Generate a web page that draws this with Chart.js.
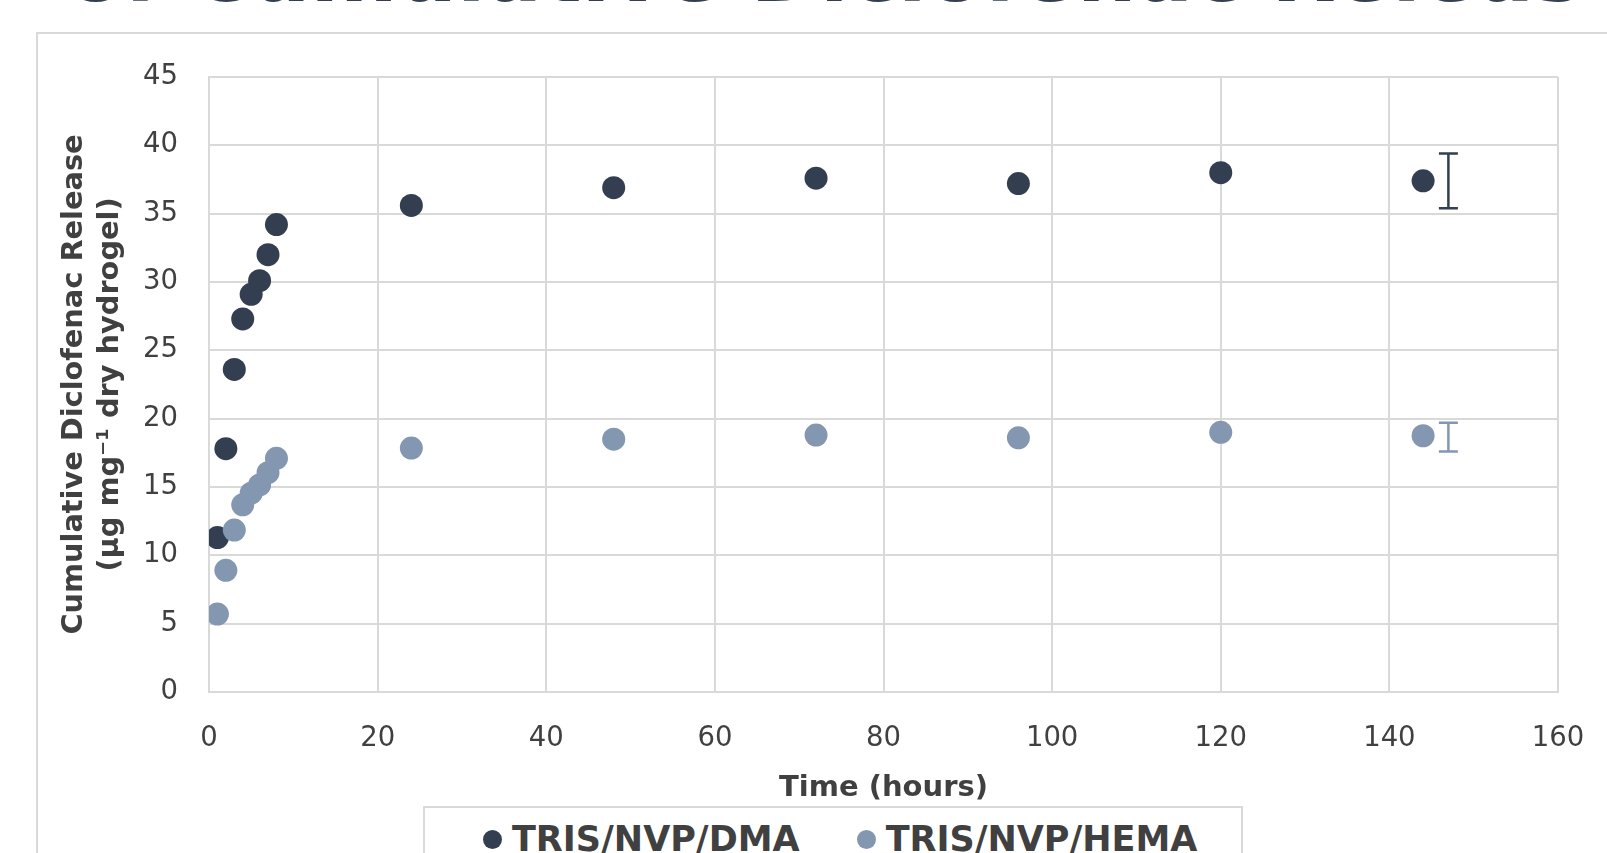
<!DOCTYPE html>
<html>
<head>
<meta charset="utf-8">
<script src="https://cdn.jsdelivr.net/npm/chart.js@4/dist/chart.umd.min.js"></script>
<style>
  html, body { margin: 0; padding: 0; background: #fff; overflow: hidden; }
  body { width: 1607px; height: 853px; position: relative; font-family: "DejaVu Sans", sans-serif; }
  #heading {
    position: absolute; left: 67px; top: -69.5px; white-space: nowrap;
    font: bold 83.5px/1 "DejaVu Sans", sans-serif; color: #333F50;
  }
  #frame {
    position: absolute; left: 36px; top: 32px; width: 1700px; height: 1000px;
    border: 2px solid #d9d9d9;
  }
  #wrap { position: absolute; left: 0; top: 0; width: 1607px; height: 853px; }
  #legend {
    position: absolute; left: 423px; top: 806px; width: 816px; height: 100px;
    border: 2px solid #d9d9d9; background: #fff;
    display: flex; justify-content: flex-start; align-items: flex-start; gap: 57px;
    padding-top: 10px; padding-left: 0; box-sizing: content-box;
  }
  .item { display: flex; align-items: center; gap: 10px;
    font: bold 35px/1.2 "DejaVu Sans", sans-serif; color: #404040; }
  .item:first-child { margin-left: 58px; }
  .dot { width: 19px; height: 19px; border-radius: 50%; }
</style>
</head>
<body>
<div id="heading">of Cumulative Diclofenac Releas</div>
<div id="frame"></div>
<div id="wrap"><canvas id="chart"></canvas></div>
<div id="legend"></div>
<script>
// time points (hours)
const hours = [1, 2, 3, 4, 5, 6, 7, 8, 24, 48, 72, 96, 120, 144];
// cumulative release, µg per mg dry hydrogel
const dmaRelease  = [11.3, 17.8, 23.6, 27.3, 29.1, 30.1, 32.0, 34.2, 35.6, 36.9, 37.6, 37.2, 38.0, 37.4];
const hemaRelease = [5.7, 8.9, 11.85, 13.7, 14.55, 15.15, 16.05, 17.1, 17.85, 18.5, 18.8, 18.6, 19.0, 18.75];

const seriesNames  = ['TRIS/NVP/DMA', 'TRIS/NVP/HEMA'];
const seriesColors = ['#333F50', '#8497B0'];

// error bars (drawn beside the last point, as in the original)
const errorTime = [147, 147];
const errorLow  = [35.4, 17.6];
const errorHigh = [39.4, 19.7];

const toPoints = vals => hours.map((h, i) => ({ x: h, y: vals[i] }));

const errorBars = {
    id: 'errorBars',
    afterDatasetsDraw(chart) {
        const ctx = chart.ctx;
        const xs = chart.scales.x, ys = chart.scales.y;
        seriesColors.forEach((col, i) => {
            const x = xs.getPixelForValue(errorTime[i]);
            const yTop = ys.getPixelForValue(errorHigh[i]);
            const yBot = ys.getPixelForValue(errorLow[i]);
            ctx.save();
            ctx.strokeStyle = col;
            ctx.lineWidth = 2.5;
            ctx.beginPath();
            ctx.moveTo(x, yTop); ctx.lineTo(x, yBot);
            ctx.moveTo(x - 9.5, yTop); ctx.lineTo(x + 9.5, yTop);
            ctx.moveTo(x - 9.5, yBot); ctx.lineTo(x + 9.5, yBot);
            ctx.stroke();
            ctx.restore();
        });
    }
};

const tickFont = { family: 'DejaVu Sans', size: 27.5 };

new Chart(document.getElementById('chart'), {
    type: 'scatter',
    data: {
        datasets: [
            { label: seriesNames[0], data: toPoints(dmaRelease), backgroundColor: seriesColors[0], order: 1 },
            { label: seriesNames[1], data: toPoints(hemaRelease), backgroundColor: seriesColors[1], order: 0 }
        ]
    },
    options: {
        responsive: true,
        maintainAspectRatio: false,
        animation: false,
        events: [],
        layout: { padding: { top: 77, right: 49, bottom: 0, left: 0 } },
        elements: { point: { radius: 11.5, borderWidth: 0, hoverRadius: 11.5 } },
        plugins: { legend: { display: false }, tooltip: { enabled: false } },
        scales: {
            x: {
                type: 'linear', min: 0, max: 160,
                afterFit: s => { s.height = 161; s.paddingLeft = 0; s.paddingRight = 0; },
                ticks: { stepSize: 20, font: tickFont, color: '#404040', padding: 30 },
                grid: { color: '#d9d9d9', lineWidth: 2, drawTicks: false },
                border: { color: '#d9d9d9', width: 2 },
                title: { display: true, text: 'Time (hours)',
                         font: { family: 'DejaVu Sans', size: 29, weight: 'bold' }, color: '#404040',
                         padding: { top: 0, bottom: 47 } }
            },
            y: {
                type: 'linear', min: 0, max: 45,
                afterFit: s => { s.width = 209; s.paddingTop = 0; s.paddingBottom = 0; },
                ticks: { stepSize: 5, font: tickFont, color: '#404040', padding: 31 },
                grid: { color: '#d9d9d9', lineWidth: 2, drawTicks: false },
                border: { color: '#d9d9d9', width: 2 },
                title: { display: true,
                         text: ['Cumulative Diclofenac Release', '(µg mg\u207B\u00B9 dry hydrogel)'],
                         font: { family: 'DejaVu Sans', size: 28.8, weight: 'bold', lineHeight: 1.25 },
                         color: '#404040', padding: { top: 57, bottom: 0 } }
            }
        }
    },
    plugins: [errorBars]
});

// legend built from the series arrays
const legend = document.getElementById('legend');
seriesNames.forEach((name, i) => {
    const item = document.createElement('div');
    item.className = 'item';
    item.innerHTML = '<span class="dot" style="background:' + seriesColors[i] + '"></span><span>' + name + '</span>';
    legend.appendChild(item);
});
</script>
</body>
</html>
